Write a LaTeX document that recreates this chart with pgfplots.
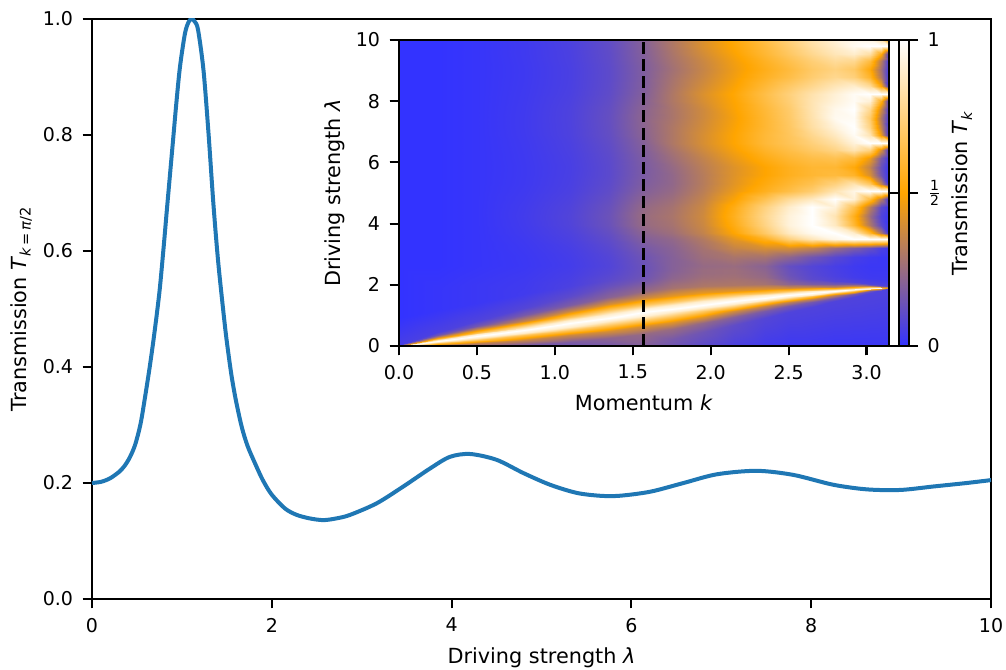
\documentclass[border=0pt]{standalone}
\usepackage{pgfplots}
\pgfplotsset{compat=1.18}
\usepackage{fontspec}
\setmainfont{DejaVu Sans}
\definecolor{mplblue}{HTML}{1F77B4}
\begin{document}
\begin{tikzpicture}
\useasboundingbox (-46pt,-35pt) rectangle (457pt,299.5pt);
\pgfplotsset{
  every axis/.append style={
    font=\fontsize{10.4}{12.5}\selectfont,
    scale only axis,
    axis line style={line width=1.08pt},
    every tick/.style={line width=1.08pt, black},
    major tick length=4.7pt,
    tick align=outside,
    /pgf/number format/assume math mode=true,
    every tick label/.append style={font=\fontsize{9.5}{11.4}\selectfont, inner sep=0pt, outer sep=4.8pt},
    every axis label/.append style={inner sep=0pt, outer sep=5.4pt},
    every axis x label/.append style={outer sep=7.6pt},
  },
}
\begin{axis}[
  at={(0pt,0pt)}, anchor=south west,
  width=449.5pt, height=290pt,
  xmin=0, xmax=10, ymin=0, ymax=1,
  xtick={0,2,4,6,8,10}, ytick={0,0.2,0.4,0.6,0.8,1},
  yticklabel style={/pgf/number format/fixed, /pgf/number format/precision=1, /pgf/number format/fixed zerofill},
  xtick pos=left, ytick pos=left,
  xlabel={Driving strength \textit{λ}},
  ylabel={Transmission \textit{T}\textsubscript{\textit{k}\,=\,\textit{π}/2}},
]
\addplot[mplblue, line width=2pt, smooth] coordinates {
(0,0.2) (0.1,0.202) (0.2,0.208) (0.3,0.219) (0.36,0.229) (0.42,0.244) (0.48,0.266) (0.54,0.302)
(0.59,0.348) (0.64,0.398) (0.68,0.442) (0.72,0.49) (0.756,0.538) (0.8,0.612) (0.83,0.666)
(0.87,0.736) (0.905,0.797) (0.94,0.858) (0.979,0.918) (1.034,0.975)
(1.075,0.995) (1.109,1.0) (1.145,0.995) (1.18,0.981) (1.24,0.912) (1.296,0.803)
(1.35,0.682) (1.405,0.579) (1.48,0.469) (1.52,0.42) (1.554,0.383) (1.6,0.343)
(1.665,0.297) (1.73,0.264) (1.813,0.234) (1.9,0.205)
(1.999,0.18) (2.147,0.156) (2.277,0.145) (2.42,0.139) (2.573,0.136) (2.72,0.139)
(2.87,0.145) (3.167,0.165) (3.463,0.194) (3.76,0.225) (3.98,0.245) (4.205,0.25)
(4.5,0.24) (4.8,0.217) (5.095,0.197) (5.39,0.183) (5.65,0.178) (5.87,0.178)
(6.21,0.185) (6.58,0.2) (6.95,0.215) (7.39,0.221) (7.8,0.214) (8.245,0.197)
(8.62,0.189) (8.99,0.188) (9.36,0.194) (9.73,0.2) (10,0.205)
};
\end{axis}
\begin{axis}[
  at={(153.5pt,126.5pt)}, anchor=south west,
  width=244.8pt, height=153pt,
  view={0}{90},
  xmin=0, xmax=3.14159, ymin=0, ymax=10,
  xtick={0,0.5,1,1.5,2,2.5,3}, ytick={0,2,4,6,8,10}, ztick=\empty,
  xticklabel style={/pgf/number format/fixed, /pgf/number format/precision=1, /pgf/number format/fixed zerofill},
  xtick pos=left, ytick pos=left,
  xlabel={Momentum \textit{k}}, ylabel={Driving strength \textit{λ}},
  colormap={trans}{rgb255(0)=(51,51,255); rgb255(1)=(255,165,0); rgb255(2)=(255,255,255)},
  point meta min=0, point meta max=1,
  colorbar,
  colorbar style={
    at={(parent axis.north east)}, anchor=north west, xshift=-3.5pt,
    width=5pt,
    ytick={0,0.5,1},
    yticklabels={0,{$\frac{\mbox{\fontsize{7}{8}\selectfont 1}}{\mbox{\fontsize{7}{8}\selectfont 2}}$},1},
    ylabel={Transmission \textit{T}\textsubscript{\textit{k}}},
  },
  axis on top,
]
\addplot3[surf, shader=interp, mesh/ordering=y varies] table[x=k, y=l, z=T] {
k l T
0 0 1
0 0 1
0 0 1
0 0 1
0 0 1
0 0 1
0 0 1
0 0.004 0.89
0 0.008 0.66
0 0.015 0.34
0 0.025 0.14
0 0.04 0.05
0 0.9 0
0 1.75 0
0 2.6 0
0 2.9 0
0 3.2 0
0 3.49 0
0 3.7 0
0 3.95 0
0 4.25 0
0 4.55 0
0 4.8 0
0 5.07 0
0 5.3 0
0 5.6 0
0 5.85 0
0 6.15 0
0 6.4 0
0 6.65 0
0 6.9 0
0 7.15 0
0 7.45 0
0 7.75 0
0 8.0 0
0 8.24 0
0 8.5 0
0 8.8 0
0 9.05 0
0 9.3 0
0 9.55 0
0 9.82 0
0 10 0

0.25 0 0.26
0.25 0 0.26
0.25 0 0.26
0.25 0.03 0.35
0.25 0.09 0.66
0.25 0.125 0.89
0.25 0.16 1
0.25 0.195 0.89
0.25 0.23 0.66
0.25 0.29 0.35
0.25 0.36 0.15
0.25 0.46 0.06
0.25 1.17 0.01
0.25 1.89 0.01
0.25 2.6 0
0.25 2.9 0
0.25 3.2 0
0.25 3.49 0
0.25 3.7 0
0.25 3.95 0
0.25 4.25 0
0.25 4.55 0
0.25 4.8 0
0.25 5.07 0
0.25 5.3 0
0.25 5.6 0
0.25 5.85 0
0.25 6.15 0
0.25 6.4 0
0.25 6.65 0
0.25 6.9 0
0.25 7.15 0
0.25 7.45 0
0.25 7.75 0
0.25 8.0 0
0.25 8.24 0
0.25 8.5 0
0.25 8.8 0
0.25 9.05 0
0.25 9.3 0
0.25 9.55 0
0.25 9.82 0
0.25 10 0

0.5 0 0.19
0.5 0 0.19
0.5 0 0.19
0.5 0.099 0.35
0.5 0.201 0.67
0.5 0.26 0.89
0.5 0.32 1
0.5 0.38 0.89
0.5 0.439 0.67
0.5 0.541 0.35
0.5 0.66 0.16
0.5 0.83 0.07
0.5 1.42 0.02
0.5 2.01 0.02
0.5 2.6 0.01
0.5 2.9 0.01
0.5 3.2 0.01
0.5 3.49 0.01
0.5 3.7 0.01
0.5 3.95 0.01
0.5 4.25 0.01
0.5 4.55 0.01
0.5 4.8 0.01
0.5 5.07 0.01
0.5 5.3 0.01
0.5 5.6 0.01
0.5 5.85 0.01
0.5 6.15 0.01
0.5 6.4 0.01
0.5 6.65 0.01
0.5 6.9 0.01
0.5 7.15 0.01
0.5 7.45 0.01
0.5 7.75 0.01
0.5 8.0 0.01
0.5 8.24 0.01
0.5 8.5 0.01
0.5 8.8 0.01
0.5 9.05 0.01
0.5 9.3 0.01
0.5 9.55 0.01
0.5 9.82 0.01
0.5 10 0.01

0.8 0 0.15
0.8 0 0.15
0.8 0.04 0.17
0.8 0.208 0.36
0.8 0.352 0.67
0.8 0.436 0.89
0.8 0.52 1
0.8 0.604 0.89
0.8 0.688 0.67
0.8 0.832 0.36
0.8 1.0 0.17
0.8 1.24 0.08
0.8 1.69 0.035
0.8 2.15 0.03
0.8 2.6 0.021
0.8 2.9 0.022
0.8 3.2 0.025
0.8 3.49 0.029
0.8 3.7 0.033
0.8 3.95 0.036
0.8 4.25 0.038
0.8 4.55 0.036
0.8 4.8 0.033
0.8 5.07 0.03
0.8 5.3 0.028
0.8 5.6 0.027
0.8 5.85 0.027
0.8 6.15 0.028
0.8 6.4 0.029
0.8 6.65 0.03
0.8 6.9 0.032
0.8 7.15 0.033
0.8 7.45 0.033
0.8 7.75 0.032
0.8 8.0 0.031
0.8 8.24 0.03
0.8 8.5 0.029
0.8 8.8 0.028
0.8 9.05 0.028
0.8 9.3 0.029
0.8 9.55 0.03
0.8 9.82 0.03
0.8 10 0.031

1.1 0 0.14
1.1 0 0.14
1.1 0.14 0.18
1.1 0.35 0.37
1.1 0.53 0.68
1.1 0.635 0.9
1.1 0.74 1
1.1 0.845 0.9
1.1 0.95 0.68
1.1 1.13 0.37
1.1 1.34 0.18
1.1 1.64 0.1
1.1 1.96 0.06
1.1 2.28 0.05
1.1 2.6 0.041
1.1 2.9 0.044
1.1 3.2 0.05
1.1 3.49 0.059
1.1 3.7 0.065
1.1 3.95 0.073
1.1 4.25 0.075
1.1 4.55 0.071
1.1 4.8 0.065
1.1 5.07 0.059
1.1 5.3 0.056
1.1 5.6 0.054
1.1 5.85 0.053
1.1 6.15 0.055
1.1 6.4 0.058
1.1 6.65 0.06
1.1 6.9 0.064
1.1 7.15 0.065
1.1 7.45 0.066
1.1 7.75 0.065
1.1 8.0 0.062
1.1 8.24 0.059
1.1 8.5 0.057
1.1 8.8 0.056
1.1 9.05 0.056
1.1 9.3 0.058
1.1 9.55 0.059
1.1 9.82 0.061
1.1 10 0.062

1.35 0 0.16
1.35 0 0.16
1.35 0.25 0.22
1.35 0.488 0.4
1.35 0.692 0.69
1.35 0.811 0.9
1.35 0.93 1
1.35 1.049 0.9
1.35 1.168 0.69
1.35 1.372 0.4
1.35 1.61 0.21
1.35 1.95 0.13
1.35 2.17 0.1
1.35 2.38 0.085
1.35 2.6 0.075
1.35 2.9 0.08
1.35 3.2 0.092
1.35 3.49 0.107
1.35 3.7 0.119
1.35 3.95 0.134
1.35 4.25 0.138
1.35 4.55 0.131
1.35 4.8 0.12
1.35 5.07 0.109
1.35 5.3 0.103
1.35 5.6 0.098
1.35 5.85 0.098
1.35 6.15 0.101
1.35 6.4 0.106
1.35 6.65 0.111
1.35 6.9 0.117
1.35 7.15 0.12
1.35 7.45 0.122
1.35 7.75 0.119
1.35 8.0 0.113
1.35 8.24 0.108
1.35 8.5 0.105
1.35 8.8 0.103
1.35 9.05 0.103
1.35 9.3 0.106
1.35 9.55 0.108
1.35 9.82 0.111
1.35 10 0.113

1.5708 0 0.2
1.5708 0.05 0.201
1.5708 0.4 0.24
1.5708 0.645 0.405
1.5708 0.855 0.713
1.5708 0.9775 0.915
1.5708 1.1 1
1.5708 1.2225 0.93
1.5708 1.345 0.693
1.5708 1.555 0.383
1.5708 1.8 0.238
1.5708 2.15 0.156
1.5708 2.3 0.143
1.5708 2.45 0.138
1.5708 2.6 0.137
1.5708 2.9 0.146
1.5708 3.2 0.167
1.5708 3.49 0.195
1.5708 3.7 0.217
1.5708 3.95 0.243
1.5708 4.25 0.25
1.5708 4.55 0.238
1.5708 4.8 0.218
1.5708 5.07 0.198
1.5708 5.3 0.187
1.5708 5.6 0.179
1.5708 5.85 0.178
1.5708 6.15 0.184
1.5708 6.4 0.193
1.5708 6.65 0.201
1.5708 6.9 0.213
1.5708 7.15 0.218
1.5708 7.45 0.221
1.5708 7.75 0.216
1.5708 8.0 0.206
1.5708 8.24 0.197
1.5708 8.5 0.191
1.5708 8.8 0.188
1.5708 9.05 0.188
1.5708 9.3 0.193
1.5708 9.55 0.197
1.5708 9.82 0.202
1.5708 10 0.205

1.75 0 0.15
1.75 0.23 0.17
1.75 0.56 0.25
1.75 0.791 0.43
1.75 0.989 0.71
1.75 1.1045 0.9
1.75 1.22 1
1.75 1.3355 0.9
1.75 1.451 0.71
1.75 1.649 0.44
1.75 1.88 0.28
1.75 2.21 0.22
1.75 2.34 0.21
1.75 2.47 0.2
1.75 2.6 0.2
1.75 2.9 0.2
1.75 3.2 0.21
1.75 3.49 0.23
1.75 3.7 0.26
1.75 3.95 0.28
1.75 4.25 0.29
1.75 4.55 0.28
1.75 4.8 0.26
1.75 5.07 0.24
1.75 5.3 0.23
1.75 5.6 0.23
1.75 5.85 0.24
1.75 6.15 0.26
1.75 6.4 0.28
1.75 6.65 0.3
1.75 6.9 0.3
1.75 7.15 0.3
1.75 7.45 0.29
1.75 7.75 0.29
1.75 8.0 0.3
1.75 8.24 0.3
1.75 8.5 0.29
1.75 8.8 0.28
1.75 9.05 0.27
1.75 9.3 0.28
1.75 9.55 0.29
1.75 9.82 0.3
1.75 10 0.3

1.95 0 0.1
1.95 0.45 0.145
1.95 0.75 0.23
1.95 0.96 0.42
1.95 1.14 0.7
1.95 1.245 0.9
1.95 1.35 1
1.95 1.455 0.9
1.95 1.56 0.71
1.95 1.74 0.45
1.95 1.95 0.3
1.95 2.25 0.26
1.95 2.37 0.25
1.95 2.48 0.25
1.95 2.6 0.24
1.95 2.9 0.26
1.95 3.2 0.28
1.95 3.49 0.31
1.95 3.7 0.35
1.95 3.95 0.37
1.95 4.25 0.38
1.95 4.55 0.37
1.95 4.8 0.35
1.95 5.07 0.33
1.95 5.3 0.32
1.95 5.6 0.32
1.95 5.85 0.33
1.95 6.15 0.35
1.95 6.4 0.38
1.95 6.65 0.4
1.95 6.9 0.4
1.95 7.15 0.39
1.95 7.45 0.38
1.95 7.75 0.38
1.95 8.0 0.4
1.95 8.24 0.41
1.95 8.5 0.39
1.95 8.8 0.37
1.95 9.05 0.36
1.95 9.3 0.37
1.95 9.55 0.39
1.95 9.82 0.41
1.95 10 0.41

2.15 0 0.06
2.15 0.69 0.11
2.15 0.95 0.2
2.15 1.132 0.39
2.15 1.288 0.68
2.15 1.379 0.9
2.15 1.47 1
2.15 1.561 0.9
2.15 1.652 0.7
2.15 1.808 0.44
2.15 1.99 0.3
2.15 2.25 0.27
2.15 2.37 0.26
2.15 2.48 0.26
2.15 2.6 0.25
2.15 2.9 0.29
2.15 3.2 0.36
2.15 3.49 0.43
2.15 3.7 0.5
2.15 3.95 0.54
2.15 4.25 0.56
2.15 4.55 0.54
2.15 4.8 0.49
2.15 5.07 0.45
2.15 5.3 0.43
2.15 5.6 0.42
2.15 5.85 0.42
2.15 6.15 0.45
2.15 6.4 0.48
2.15 6.65 0.5
2.15 6.9 0.5
2.15 7.15 0.49
2.15 7.45 0.48
2.15 7.75 0.49
2.15 8.0 0.5
2.15 8.24 0.51
2.15 8.5 0.49
2.15 8.8 0.47
2.15 9.05 0.46
2.15 9.3 0.47
2.15 9.55 0.49
2.15 9.82 0.51
2.15 10 0.52

2.35 0 0.035
2.35 0.92 0.08
2.35 1.14 0.17
2.35 1.294 0.36
2.35 1.426 0.67
2.35 1.503 0.9
2.35 1.58 1
2.35 1.657 0.9
2.35 1.734 0.68
2.35 1.866 0.42
2.35 2.02 0.28
2.35 2.24 0.24
2.35 2.36 0.23
2.35 2.48 0.22
2.35 2.6 0.21
2.35 2.9 0.28
2.35 3.2 0.4
2.35 3.49 0.56
2.35 3.7 0.7
2.35 3.95 0.76
2.35 4.25 0.78
2.35 4.55 0.75
2.35 4.8 0.66
2.35 5.07 0.56
2.35 5.3 0.53
2.35 5.6 0.5
2.35 5.85 0.5
2.35 6.15 0.54
2.35 6.4 0.58
2.35 6.65 0.61
2.35 6.9 0.61
2.35 7.15 0.6
2.35 7.45 0.6
2.35 7.75 0.61
2.35 8.0 0.63
2.35 8.24 0.64
2.35 8.5 0.61
2.35 8.8 0.57
2.35 9.05 0.55
2.35 9.3 0.57
2.35 9.55 0.6
2.35 9.82 0.62
2.35 10 0.64

2.5 0 0.025
2.5 1.12 0.07
2.5 1.3 0.16
2.5 1.426 0.35
2.5 1.534 0.67
2.5 1.597 0.89
2.5 1.66 1
2.5 1.723 0.89
2.5 1.786 0.67
2.5 1.894 0.39
2.5 2.02 0.22
2.5 2.2 0.16
2.5 2.33 0.14
2.5 2.47 0.13
2.5 2.6 0.12
2.5 2.9 0.22
2.5 3.2 0.4
2.5 3.49 0.74
2.5 3.7 0.88
2.5 3.95 0.93
2.5 4.25 0.93
2.5 4.55 0.9
2.5 4.8 0.8
2.5 5.07 0.64
2.5 5.3 0.6
2.5 5.6 0.56
2.5 5.85 0.56
2.5 6.15 0.6
2.5 6.4 0.64
2.5 6.65 0.67
2.5 6.9 0.68
2.5 7.15 0.69
2.5 7.45 0.7
2.5 7.75 0.71
2.5 8.0 0.73
2.5 8.24 0.74
2.5 8.5 0.7
2.5 8.8 0.64
2.5 9.05 0.62
2.5 9.3 0.65
2.5 9.55 0.69
2.5 9.82 0.72
2.5 10 0.74

2.65 0 0.025
2.65 1.28 0.07
2.65 1.43 0.16
2.65 1.535 0.35
2.65 1.625 0.67
2.65 1.6775 0.89
2.65 1.73 1
2.65 1.7825 0.89
2.65 1.835 0.67
2.65 1.925 0.36
2.65 2.03 0.18
2.65 2.18 0.1
2.65 2.32 0.09
2.65 2.46 0.085
2.65 2.6 0.08
2.65 2.9 0.15
2.65 3.2 0.35
2.65 3.49 0.86
2.65 3.7 0.97
2.65 3.95 1
2.65 4.25 1
2.65 4.55 1
2.65 4.8 0.88
2.65 5.07 0.72
2.65 5.3 0.66
2.65 5.6 0.6
2.65 5.85 0.6
2.65 6.15 0.64
2.65 6.4 0.7
2.65 6.65 0.74
2.65 6.9 0.78
2.65 7.15 0.82
2.65 7.45 0.84
2.65 7.75 0.85
2.65 8.0 0.85
2.65 8.24 0.84
2.65 8.5 0.78
2.65 8.8 0.72
2.65 9.05 0.7
2.65 9.3 0.73
2.65 9.55 0.78
2.65 9.82 0.82
2.65 10 0.84

2.8 0 0.02
2.8 1.47 0.07
2.8 1.58 0.16
2.8 1.657 0.35
2.8 1.723 0.67
2.8 1.7615 0.89
2.8 1.8 1
2.8 1.8385 0.89
2.8 1.877 0.67
2.8 1.943 0.35
2.8 2.02 0.16
2.8 2.13 0.08
2.8 2.29 0.06
2.8 2.44 0.055
2.8 2.6 0.05
2.8 2.9 0.09
2.8 3.2 0.25
2.8 3.49 0.95
2.8 3.7 1
2.8 3.95 0.88
2.8 4.25 0.85
2.8 4.55 0.92
2.8 4.8 1
2.8 5.07 0.85
2.8 5.3 0.75
2.8 5.6 0.62
2.8 5.85 0.6
2.8 6.15 0.66
2.8 6.4 0.76
2.8 6.65 0.82
2.8 6.9 0.88
2.8 7.15 0.93
2.8 7.45 0.97
2.8 7.75 0.96
2.8 8.0 0.93
2.8 8.24 0.92
2.8 8.5 0.86
2.8 8.8 0.78
2.8 9.05 0.75
2.8 9.3 0.8
2.8 9.55 0.86
2.8 9.82 0.9
2.8 10 0.92

2.92 0 0.02
2.92 1.61 0.07
2.92 1.69 0.16
2.92 1.746 0.35
2.92 1.794 0.67
2.92 1.822 0.89
2.92 1.85 1
2.92 1.878 0.89
2.92 1.906 0.67
2.92 1.954 0.35
2.92 2.01 0.16
2.92 2.09 0.07
2.92 2.26 0.04
2.92 2.43 0.035
2.92 2.6 0.03
2.92 2.9 0.05
2.92 3.2 0.18
2.92 3.49 1
2.92 3.7 0.9
2.92 3.95 0.6
2.92 4.25 0.55
2.92 4.55 0.65
2.92 4.8 0.92
2.92 5.07 0.95
2.92 5.3 0.85
2.92 5.6 0.58
2.92 5.85 0.52
2.92 6.15 0.62
2.92 6.4 0.85
2.92 6.65 0.93
2.92 6.9 0.98
2.92 7.15 1
2.92 7.45 0.98
2.92 7.75 1
2.92 8.0 0.98
2.92 8.24 0.98
2.92 8.5 0.9
2.92 8.8 0.74
2.92 9.05 0.7
2.92 9.3 0.78
2.92 9.55 0.9
2.92 9.82 0.97
2.92 10 0.96

3.02 0 0.02
3.02 1.735 0.07
3.02 1.785 0.16
3.02 1.82 0.35
3.02 1.85 0.67
3.02 1.8675 0.89
3.02 1.885 1
3.02 1.9025 0.89
3.02 1.92 0.67
3.02 1.95 0.35
3.02 1.985 0.16
3.02 2.035 0.07
3.02 2.223 0.03
3.02 2.41 0.025
3.02 2.6 0.02
3.02 2.9 0.03
3.02 3.2 0.12
3.02 3.49 1
3.02 3.7 0.6
3.02 3.95 0.3
3.02 4.25 0.25
3.02 4.55 0.32
3.02 4.8 0.62
3.02 5.07 1
3.02 5.3 0.7
3.02 5.6 0.4
3.02 5.85 0.35
3.02 6.15 0.45
3.02 6.4 0.75
3.02 6.65 1
3.02 6.9 0.85
3.02 7.15 0.75
3.02 7.45 0.7
3.02 7.75 0.78
3.02 8.0 0.92
3.02 8.24 1
3.02 8.5 0.8
3.02 8.8 0.58
3.02 9.05 0.52
3.02 9.3 0.62
3.02 9.55 0.82
3.02 9.82 1
3.02 10 0.95

3.09 0 0.02
3.09 1.815 0.07
3.09 1.845 0.16
3.09 1.866 0.35
3.09 1.884 0.67
3.09 1.8945 0.89
3.09 1.905 1
3.09 1.9155 0.89
3.09 1.926 0.67
3.09 1.944 0.35
3.09 1.965 0.16
3.09 1.995 0.07
3.09 2.197 0.03
3.09 2.4 0.025
3.09 2.6 0.02
3.09 2.9 0.02
3.09 3.2 0.06
3.09 3.49 1
3.09 3.7 0.3
3.09 3.95 0.1
3.09 4.25 0.07
3.09 4.55 0.1
3.09 4.8 0.32
3.09 5.07 1
3.09 5.3 0.35
3.09 5.6 0.15
3.09 5.85 0.13
3.09 6.15 0.18
3.09 6.4 0.4
3.09 6.65 1
3.09 6.9 0.45
3.09 7.15 0.35
3.09 7.45 0.3
3.09 7.75 0.38
3.09 8.0 0.55
3.09 8.24 1
3.09 8.5 0.5
3.09 8.8 0.3
3.09 9.05 0.27
3.09 9.3 0.32
3.09 9.55 0.52
3.09 9.82 1
3.09 10 0.85

3.1416 0 0.02
3.1416 1.884 0.07
3.1416 1.896 0.16
3.1416 1.904 0.35
3.1416 1.912 0.67
3.1416 1.916 0.89
3.1416 1.92 1
3.1416 1.924 0.89
3.1416 1.928 0.67
3.1416 1.936 0.35
3.1416 1.944 0.16
3.1416 1.956 0.07
3.1416 2.171 0.03
3.1416 2.385 0.025
3.1416 2.6 0.02
3.1416 2.9 0.02
3.1416 3.2 0.03
3.1416 3.49 1
3.1416 3.7 0.03
3.1416 3.95 0.02
3.1416 4.25 0.02
3.1416 4.55 0.02
3.1416 4.8 0.03
3.1416 5.07 1
3.1416 5.3 0.03
3.1416 5.6 0.02
3.1416 5.85 0.02
3.1416 6.15 0.02
3.1416 6.4 0.03
3.1416 6.65 1
3.1416 6.9 0.04
3.1416 7.15 0.04
3.1416 7.45 0.04
3.1416 7.75 0.04
3.1416 8.0 0.05
3.1416 8.24 1
3.1416 8.5 0.04
3.1416 8.8 0.03
3.1416 9.05 0.03
3.1416 9.3 0.03
3.1416 9.55 0.04
3.1416 9.82 1
3.1416 10 0.5
};
\addplot3[black, line width=1.5pt, dash pattern=on 6pt off 2.6pt] coordinates {(1.5708,0,1) (1.5708,10,1)};
\end{axis}
\end{tikzpicture}
\end{document}
